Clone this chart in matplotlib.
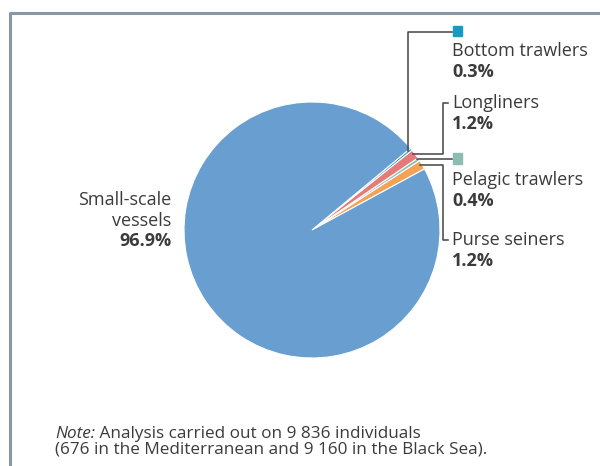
import numpy as np
import matplotlib
matplotlib.use("Agg")
import matplotlib.pyplot as plt

# Share of individuals by fleet segment (%)
segments = ["Purse seiners", "Pelagic trawlers", "Longliners", "Bottom trawlers", "Small-scale vessels"]
shares = [1.2, 0.4, 1.2, 0.3, 96.9]
share_labels = ["1.2%", "0.4%", "1.2%", "0.3%", "96.9%"]
colors = ["#f4a256", "#8dbcb3", "#e57a78", "#1a98c2", "#689fd0"]

note_italic = "Note:"
note_rest = " Analysis carried out on 9 836 individuals"
note_line2 = "(676 in the Mediterranean and 9 160 in the Black Sea)."

W, H = 600, 466
fig = plt.figure(figsize=(W / 100, H / 100), dpi=100)
fig.patch.set_facecolor("white")

plt.rcParams["font.family"] = ["Open Sans", "DejaVu Sans"]
TXT = "#3b3b3b"
LINE = "#444444"

# pie placement in pixel units
CX, CY, R = 312, 230, 128
START = 28.5
ax_pie = fig.add_axes([(CX - R) / W, 1 - (CY + R) / H, 2 * R / W, 2 * R / H])
ax_pie.pie(shares, colors=colors, startangle=START, counterclock=True, radius=1,
           wedgeprops=dict(edgecolor="white", linewidth=0.8, antialiased=True))
ax_pie.set_xlim(-1, 1)
ax_pie.set_ylim(-1, 1)
ax_pie.set_aspect("equal")
ax_pie.axis("off")

# overlay in pixel coordinates for frame, leaders and labels
ov = fig.add_axes([0, 0, 1, 1], zorder=5)
ov.set_xlim(0, W)
ov.set_ylim(H, 0)
ov.axis("off")
ov.patch.set_alpha(0)

# frame
ov.plot([10, 10, W + 5], [H + 5, 13, 13], color="#8896a6", lw=2.2, solid_capstyle="butt")

# mid angles of each wedge
cum = np.cumsum([0] + shares)
mids = {}
for i, name in enumerate(segments):
    a = np.deg2rad(START + (cum[i] + cum[i + 1]) / 2 * 3.6)
    mids[name] = (CX + R * np.cos(a), CY - R * np.sin(a))

lw = 1.1
# Bottom trawlers: up then right to square
x0, y0 = mids["Bottom trawlers"]
ov.plot([x0 - 3, x0 - 3, 452], [y0 + 2, 32, 32], color=LINE, lw=lw)
ov.add_patch(plt.Rectangle((453, 26), 9, 10, color=colors[3]))
# Longliners: right, up, right
x0, y0 = mids["Longliners"]
ov.plot([x0 - 2, 443, 443, 448], [y0, y0, 103, 103], color=LINE, lw=lw)
# Pelagic trawlers: right to square
x0, y0 = mids["Pelagic trawlers"]
ov.plot([x0 - 2, 452], [y0, y0], color=LINE, lw=lw)
ov.add_patch(plt.Rectangle((453, 153), 9, 11, color=colors[1]))
# Purse seiners: right, down, right
x0, y0 = mids["Purse seiners"]
ov.plot([x0 - 2, 443, 443, 448], [y0, y0, 240, 240], color=LINE, lw=lw)

fs = 13
label_pos = {
    "Bottom trawlers": (452, 51),
    "Longliners": (452, 103),
    "Pelagic trawlers": (452, 180),
    "Purse seiners": (452, 240),
}
for name, (x, y) in label_pos.items():
    i = segments.index(name)
    ov.text(x, y, name, fontsize=fs, color=TXT, va="center", ha="left")
    ov.text(x, y + 21, share_labels[i], fontsize=fs, color=TXT, va="center",
            ha="left", fontweight="bold")

ov.text(171, 200, "Small-scale", fontsize=fs, color=TXT, va="center", ha="right")
ov.text(171, 221, "vessels", fontsize=fs, color=TXT, va="center", ha="right")
ov.text(171, 241, share_labels[4], fontsize=fs, color=TXT, va="center", ha="right",
        fontweight="bold")

# note
nfs = 12.3
t1 = ov.text(55, 434, note_italic, fontsize=nfs, color=TXT, va="center", ha="left",
             style="italic")
fig.canvas.draw()
bb = t1.get_window_extent()
x_end = bb.x1
ov.text(x_end / W, 1 - 434 / H, note_rest, fontsize=nfs, color=TXT, va="center",
        ha="left", transform=fig.transFigure)
ov.text(55, 450, note_line2, fontsize=nfs, color=TXT, va="center", ha="left")

fig.savefig("out.png", dpi=100, facecolor="white")
